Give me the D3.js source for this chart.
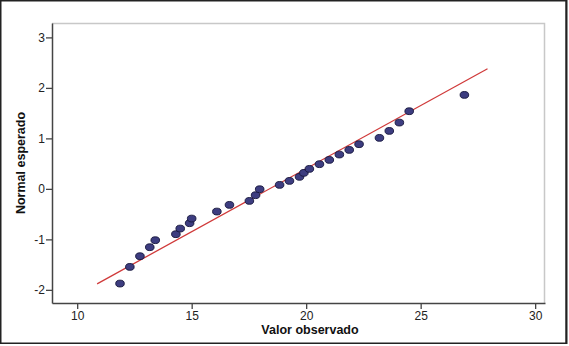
<!DOCTYPE html>
<html>
<head>
<meta charset="utf-8">
<script src="https://cdn.jsdelivr.net/npm/d3@7"></script>
<style>
  body { margin: 0; background: #fff; }
  svg { display: block; font-family: Arial, "Liberation Sans", sans-serif; }
</style>
</head>
<body>
<div id="chart"></div>
<script>
// Q-Q plot data: observed values and expected normal values
const observed = [11.87, 12.30, 12.74, 13.17, 13.41, 14.31, 14.50, 14.91, 15.00, 16.10,
                  16.65, 17.52, 17.79, 17.97, 18.84, 19.27, 19.71, 19.90, 20.14, 20.58,
                  21.01, 21.45, 21.88, 22.31, 23.20, 23.63, 24.07, 24.50, 26.91];
const expected = [-1.875, -1.545, -1.333, -1.155, -1.016, -0.897, -0.786, -0.680, -0.588, -0.449,
                  -0.317, -0.238, -0.125, -0.007, 0.079, 0.158, 0.238, 0.317, 0.396, 0.489,
                  0.574, 0.680, 0.772, 0.885, 1.010, 1.148, 1.313, 1.538, 1.861];
// reference line end points
const lineX = [10.87, 27.92];
const lineY = [-1.88, 2.38];
const xTicks = [10, 15, 20, 25, 30];
const yTicks = [-2, -1, 0, 1, 2, 3];

const W = 569, H = 346;
const margin = {top: 23, right: 24, bottom: 43, left: 52};
const width = W - margin.left - margin.right,
      height = H - margin.top - margin.bottom;

const svg = d3.select("#chart").append("svg")
    .attr("width", W)
    .attr("height", H);

// outer frame
svg.append("rect")
    .attr("x", 0.75).attr("y", 0.75)
    .attr("width", W - 3.5).attr("height", H - 3.5)
    .attr("fill", "none").attr("stroke", "#222").attr("stroke-width", 1.5);
svg.append("line")
    .attr("x1", W - 2.5).attr("x2", W - 2.5).attr("y1", 0).attr("y2", H - 2)
    .attr("stroke", "#222").attr("stroke-width", 2);

const g = svg.append("g")
    .attr("transform", `translate(${margin.left},${margin.top})`);

const x = d3.scaleLinear().domain([8.9, 30.43]).range([0, width]);
const y = d3.scaleLinear().domain([-2.26, 3.285]).range([height, 0]);

// top and right light border
g.append("path")
    .attr("d", `M0,0.5H${width - 0.5}V${height}`)
    .attr("fill", "none").attr("stroke", "#c8c8c8").attr("stroke-width", 1.5);

// axes (plain hyphen minus, integer labels)
const fmt = d => String(d);
const xAxis = g.append("g")
    .attr("transform", `translate(0,${height})`)
    .call(d3.axisBottom(x).tickValues(xTicks).tickFormat(fmt).tickSize(6).tickPadding(2).tickSizeOuter(0));
const yAxis = g.append("g")
    .call(d3.axisLeft(y).tickValues(yTicks).tickFormat(fmt).tickSize(6).tickPadding(1).tickSizeOuter(0));

[xAxis, yAxis].forEach(a => {
  a.select(".domain").attr("stroke", "#444").attr("stroke-width", 1.5);
  a.selectAll(".tick line").attr("stroke", "#444").attr("stroke-width", 1.3);
  a.selectAll(".tick text").attr("fill", "#222").style("font-size", "12px")
    .style("font-family", "Arial, 'Liberation Sans', sans-serif");
});

// axis titles
svg.append("text")
    .attr("x", 310).attr("y", 334)
    .attr("text-anchor", "middle")
    .style("font-size", "12.5px").style("font-weight", "bold").attr("fill", "#111")
    .text("Valor observado");
svg.append("text")
    .attr("transform", "translate(25,163) rotate(-90)")
    .attr("text-anchor", "middle")
    .style("font-size", "12.5px").style("font-weight", "bold").attr("fill", "#111")
    .text("Normal esperado");

// reference line
g.append("line")
    .attr("x1", x(lineX[0])).attr("y1", y(lineY[0]))
    .attr("x2", x(lineX[1])).attr("y2", y(lineY[1]))
    .attr("stroke", "#d03a3a").attr("stroke-width", 1.3);

// points
g.selectAll("ellipse")
    .data(observed.map((v, i) => ({x: v, y: expected[i]})))
    .enter().append("ellipse")
    .attr("cx", d => x(d.x))
    .attr("cy", d => y(d.y))
    .attr("rx", 4.3).attr("ry", 3.4)
    .attr("fill", "#3d3d80")
    .attr("stroke", "#14143a").attr("stroke-width", 0.9);
</script>
</body>
</html>
